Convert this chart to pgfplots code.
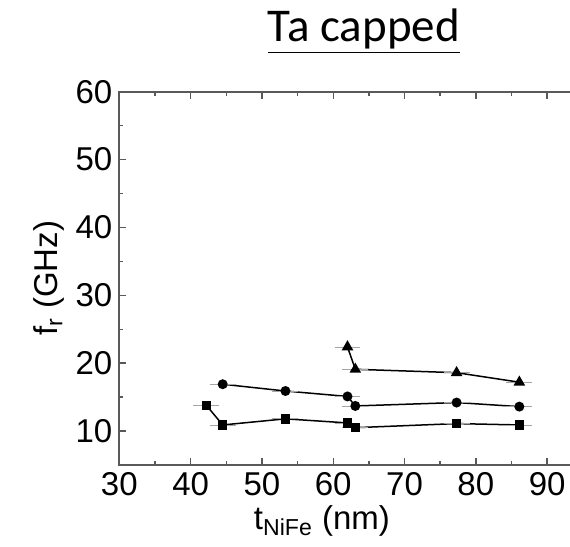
\documentclass[border=0pt]{standalone}
\usepackage{fontspec}
\setmainfont{Liberation Sans}
\newfontfamily\calibri{Carlito}
\usepackage{pgfplots}
\pgfplotsset{compat=1.18}

% 1 px of the reference = 0.5pt
\begin{document}
\begin{tikzpicture}
\begin{axis}[
    at={(0,0)}, anchor=south west,
    scale only axis,
    width=228.2pt, height=186.65pt,
    xmin=30, xmax=94, ymin=5, ymax=60,
    xtick={30,40,...,90}, ytick={10,20,...,60},
    minor x tick num=1, minor y tick num=1,
    tick align=inside,
    major tick length=3.5pt, minor tick length=2pt,
    xtick pos=both, ytick pos=left,
    axis line style={black!65, line width=0.8pt},
    every tick/.style={black!65, line width=0.7pt},
    tick label style={font=\fontsize{16.5}{18}\selectfont},
    /pgf/number format/assume math mode=true,
    xlabel={t\textsubscript{NiFe} (nm)},
    ylabel={f\textsubscript{r} (GHz)},
    label style={font=\fontsize{16.5}{18}\selectfont},
    xlabel style={at={(axis description cs:0.444,-0.174)}, anchor=base},
    ylabel style={at={(axis description cs:-0.136,0.5)}, anchor=base},
    error bars/error bar style={black!35, line width=0.4pt},
    error bars/error mark options={black!35, mark size=1.5pt, line width=0.4pt},
]
\addplot[black, line width=0.75pt, mark=square*, mark size=2pt,
    mark options={black, fill=black},
    error bars/.cd, x dir=both, x fixed=1.4] coordinates {
    (42.2,13.8) (44.5,10.9) (53.3,11.8) (62.0,11.2) (63.1,10.5) (77.3,11.1) (86.1,10.9)
};
\addplot[black, line width=0.75pt, mark=*, mark size=2.1pt,
    mark options={black, fill=black},
    error bars/.cd, x dir=both, x fixed=1.4] coordinates {
    (44.5,16.9) (53.3,15.9) (62.0,15.1) (63.1,13.7) (77.3,14.2) (86.1,13.6)
};
\addplot[black, line width=0.75pt, mark=triangle*, mark size=2.6pt,
    mark options={black, fill=black},
    error bars/.cd, x dir=both, x fixed=1.4] coordinates {
    (62.0,22.4) (63.1,19.1) (77.3,18.6) (86.1,17.2)
};
\end{axis}
\node[anchor=base, font=\calibri\fontsize{23.5}{26}\selectfont, inner sep=0pt]
    at (122.3pt,211.5pt) {\underline{Ta capped}};
\pgfresetboundingbox
\useasboundingbox (-59.65pt,-41pt) rectangle (225.35pt,232.5pt);
\end{tikzpicture}
\end{document}
